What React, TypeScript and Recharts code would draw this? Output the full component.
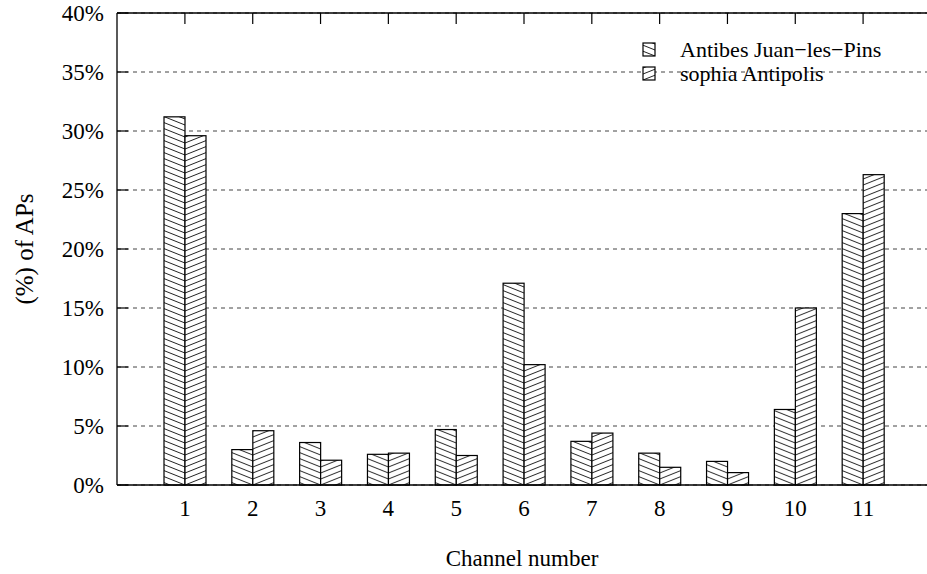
import React from 'react';
import { BarChart, Bar, XAxis, YAxis, CartesianGrid, Legend } from 'recharts';

const channels = ['1', '2', '3', '4', '5', '6', '7', '8', '9', '10', '11'];
const antibes = [31.2, 3.0, 3.6, 2.6, 4.7, 17.1, 3.7, 2.7, 2.0, 6.4, 23.0];
const sophia = [29.6, 4.6, 2.1, 2.7, 2.5, 10.2, 4.4, 1.5, 1.05, 15.0, 26.3];
const yTicks = [0, 5, 10, 15, 20, 25, 30, 35, 40];
const seriesNames = ['Antibes Juan\u2212les\u2212Pins', 'sophia Antipolis'];

const data = channels.map((c, i) => ({ channel: c, antibes: antibes[i], sophia: sophia[i] }));

const FONT = "'Liberation Serif', 'Times New Roman', serif";
const textStyle = { fontFamily: FONT };

const hatchPath = (dir: string) =>
  dir === 'down'
    ? 'M0,0 L15,6 M-1,5.6 L1,6.4 M14,-0.4 L16,0.4'
    : 'M0,6 L15,0 M-1,0.4 L1,-0.4 M14,6.4 L16,5.6';

const Hatch = ({ id, ox, oy, dir }: any) => (
  <pattern id={id} patternUnits="userSpaceOnUse" x={ox} y={oy} width={15} height={6}>
    <rect x={0} y={0} width={15} height={6} fill="#fff" />
    <path d={hatchPath(dir)} stroke="#222" strokeWidth={1} fill="none" />
  </pattern>
);

const makeShape = (dir: string, key: string) => (props: any) => {
  const { x, y, width, height, index } = props;
  if (!height || height <= 0) return <g />;
  const id = `${key}-${index}`;
  const ox = dir === 'down' ? x + width : x;
  return (
    <g>
      <defs>
        <Hatch id={id} ox={ox} oy={y + height} dir={dir} />
      </defs>
      <rect x={x} y={y} width={width} height={height} fill={`url(#${id})`} stroke="#000" strokeWidth={1.2} />
    </g>
  );
};

const antibesShape = makeShape('down', 'hA');
const sophiaShape = makeShape('up', 'hS');

const XTick = (props: any) => {
  const { x, y, payload } = props;
  return (
    <text x={x} y={y + 31} textAnchor="middle" style={textStyle} fontSize={23} fill="#000">
      {payload.value}
    </text>
  );
};

const TopTick = (props: any) => {
  const { x, y } = props;
  return <line x1={x} x2={x} y1={y} y2={y + 11} stroke="#000" strokeWidth={1.2} />;
};

const YTick = (props: any) => {
  const { x, y, payload } = props;
  return (
    <g>
      <line x1={x} x2={x + 11} y1={y} y2={y} stroke="#000" strokeWidth={1.2} />
      <text x={x - 13} y={y} dy="0.33em" textAnchor="end" style={textStyle} fontSize={23} fill="#000">
        {`${payload.value}%`}
      </text>
    </g>
  );
};

const XTitle = (props: any) => {
  const vb = props.viewBox || {};
  const x = (vb.x ?? 117) + (vb.width ?? 810) / 2;
  const y = (vb.y ?? 485) + 81;
  return (
    <text x={x} y={y} textAnchor="middle" style={textStyle} fontSize={23} fill="#000">
      Channel number
    </text>
  );
};

const YTitle = (props: any) => {
  const vb = props.viewBox || {};
  const cx = (vb.x ?? 0) + 33;
  const cy = (vb.y ?? 13) + (vb.height ?? 472) / 2;
  return (
    <text
      x={cx}
      y={cy}
      transform={`rotate(-90 ${cx} ${cy})`}
      textAnchor="middle"
      style={textStyle}
      fontSize={25}
      fill="#000"
    >
      (%) of APs
    </text>
  );
};

const renderLegend = (props: any) => {
  const payload = props.payload || [];
  const names = payload.length ? payload.map((p: any) => p.value) : seriesNames;
  const dirs = ['down', 'up'];
  return (
    <svg width={927} height={100} style={{ display: 'block', overflow: 'visible' }}>
      <defs>
        {names.map((_: any, i: number) => (
          <Hatch key={i} id={`lg-${i}`} ox={i === 0 ? 655 : 643} oy={56 + i * 24} dir={dirs[i]} />
        ))}
      </defs>
      {names.map((n: string, i: number) => (
        <g key={n}>
          <rect x={643} y={43 + i * 24} width={12} height={13} fill={`url(#lg-${i})`} stroke="#000" strokeWidth={1.2} />
          <text x={680} y={57 + i * 24} style={textStyle} fontSize={22} fill="#000">
            {n}
          </text>
        </g>
      ))}
    </svg>
  );
};

export default function App() {
  return (
    <div style={{ position: 'absolute', left: 0, top: 0, width: 927, height: 574, background: '#fff', fontFamily: FONT }}>
      <BarChart
        width={927}
        height={574}
        data={data}
        margin={{ top: 0, right: 0, bottom: 0, left: 0 }}
        barGap={0}
        style={{ fontFamily: FONT }}
      >
        <CartesianGrid vertical={false} stroke="#444" strokeDasharray="4 4" strokeWidth={1} />
        <XAxis
          dataKey="channel"
          height={89}
          padding={{ left: 34, right: 30 }}
          interval={0}
          tickSize={0}
          tickMargin={0}
          tickLine={false}
          axisLine={{ stroke: '#000', strokeWidth: 1.3 }}
          tick={<XTick />}
          label={<XTitle />}
        />
        <XAxis
          xAxisId="top"
          orientation="top"
          dataKey="channel"
          height={13}
          padding={{ left: 34, right: 30 }}
          interval={0}
          tickSize={0}
          tickMargin={0}
          tickLine={false}
          axisLine={{ stroke: '#000', strokeWidth: 1.3 }}
          tick={<TopTick />}
        />
        <YAxis
          width={117}
          domain={[0, 40]}
          ticks={yTicks}
          interval={0}
          tickSize={0}
          tickMargin={0}
          tickLine={false}
          axisLine={{ stroke: '#000', strokeWidth: 1.3 }}
          tick={<YTick />}
          label={<YTitle />}
        />
        <Bar dataKey="antibes" name={seriesNames[0]} barSize={21} fill="#fff" shape={antibesShape} isAnimationActive={false} />
        <Bar dataKey="sophia" name={seriesNames[1]} barSize={21} fill="#fff" shape={sophiaShape} isAnimationActive={false} />
        <Legend
          layout="horizontal"
          verticalAlign="middle"
          align="center"
          content={renderLegend}
          wrapperStyle={{ position: 'absolute', left: 0, top: 0, width: 927, height: 100, pointerEvents: 'none' }}
        />
      </BarChart>
    </div>
  );
}
